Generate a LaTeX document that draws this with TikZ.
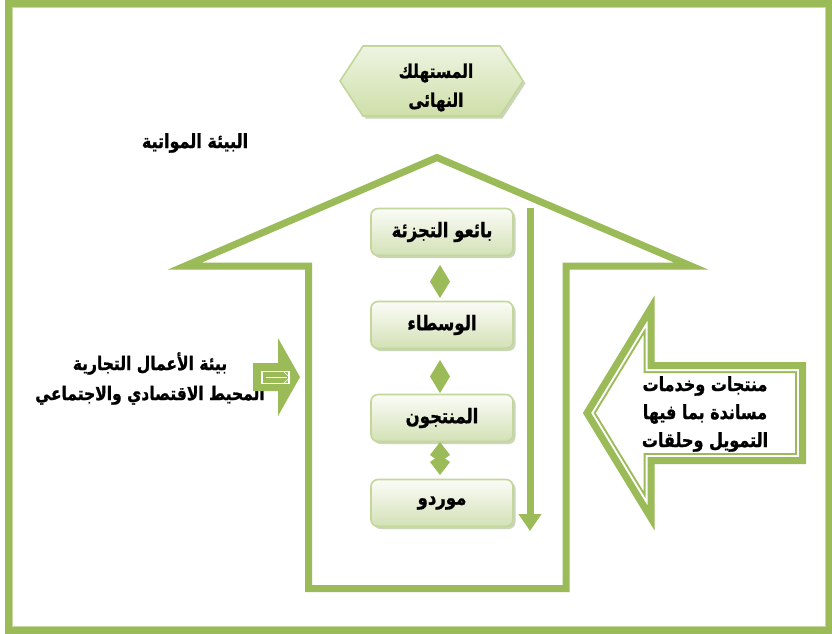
\documentclass[tikz,border=0pt]{standalone}
\usepackage{fontspec}
\newfontfamily\arfont[Script=Arabic, BoldFeatures={FakeBold=1.2}]{DejaVu Sans}
\TeXXeTstate=1
\usetikzlibrary{shadows,arrows.meta,calc}
\definecolor{olive}{HTML}{9BBB59}
\definecolor{oliveLight}{HTML}{C5D9A0}
\definecolor{boxline}{HTML}{C3D69B}
\definecolor{boxtop}{HTML}{FBFCF7}
\definecolor{boxbot}{HTML}{D3E1B6}
\definecolor{hextop}{HTML}{EEF4E2}
\definecolor{hexbot}{HTML}{CFDFA9}
\definecolor{shad}{HTML}{A9B98A}
\newcommand{\AR}[1]{{\scalebox{1}[1.22]{\beginR #1\endR}}}
\begin{document}
\begin{tikzpicture}[x=1pt,y=-1pt,
  artext/.style={font=\arfont\bfseries\fontsize{16}{20}\selectfont, align=center, inner sep=0pt},
  stagebox/.style={rounded corners=7pt, draw=boxline, line width=1.6pt,
     top color=boxtop, bottom color=boxbot, minimum width=142pt, minimum height=47pt,
     drop shadow={shadow xshift=2.5pt, shadow yshift=-2.5pt, fill=shad, opacity=0.6},
     font=\arfont\bfseries\fontsize{16.5}{20}\selectfont},
  thick green/.style={draw=olive, line width=7pt, miter limit=25},
  dblarrow/.pic={\fill[olive] (0,-#1) -- (10,0) -- (0,#1) -- (-10,0) -- cycle;},
]
\useasboundingbox (0,0) rectangle (832,634);
\fill[white] (0,0) rectangle (832,634);
% outer frame
\draw[thick green] (8.5,3.5) rectangle (829.5,630.5);
\draw[oliveLight, line width=0.8pt] (12.4,7.4) rectangle (825.6,626.6);

% big up arrow (outline)
\draw[thick green] (437,157.5) -- (691,266) -- (566,266) -- (566,588.5)
   -- (308.5,588.5) -- (308.5,266) -- (185,266) -- cycle;

% hexagon: final consumer
\draw[draw=boxline, line width=1.6pt, top color=hextop, bottom color=hexbot,
      drop shadow={shadow xshift=2.5pt, shadow yshift=-2.5pt, fill=shad, opacity=0.6}]
   (340,81) -- (363,46) -- (500,46) -- (523,81) -- (500,116) -- (363,116) -- cycle;
\node[artext, font=\arfont\bfseries\fontsize{15.5}{29}\selectfont] (cons) at (436,87.5)
   {\AR{المستهلك}\\\AR{النهائى}};

% environment label
\node[artext] (env) at (195,143) {\AR{البيئة المواتية}};

% stage boxes
\node[stagebox] (b1) at (442,232) {\AR{بائعو التجزئة}};
\node[stagebox] (b2) at (442,325) {\AR{الوسطاء}};
\node[stagebox] (b3) at (442,418) {\AR{المنتجون}};
\node[stagebox] (b4) at (442,503) {\AR{موردو}};

% double arrows between boxes
\path (440,281.5) pic {dblarrow=16.5};
\path (440,376.5) pic {dblarrow=16.5};
\fill[olive] (440,442) -- (450,455) -- (445,458.5) -- (450,462) -- (440,475)
   -- (430,462) -- (435,458.5) -- (430,455) -- cycle;

% downward flow arrow
\coordinate (dtop) at (530,208);
\coordinate (dbot) at (530,531);
\draw[draw=olive, line width=7pt, -{Triangle[width=22pt,length=17pt]}] (dtop) -- (dbot);

% left text and arrow
\node[artext, font=\arfont\bfseries\fontsize{15.5}{30}\selectfont] (left) at (150,378.5)
   {\AR{بيئة الأعمال التجارية}\\\AR{المحيط الاقتصادي والاجتماعي}};
\fill[olive] (253,363) -- (278,363) -- (278,338) -- (300,377) -- (278,416)
   -- (278,391) -- (253,391) -- cycle;
\draw[white, line width=1.3pt] (262,371.5) rectangle (289,383.5);
\draw[white, line width=0.8pt] (266,377.5) -- (287,377.5);
\draw[white, line width=0.6pt] (284,372) -- (290,377.5) -- (284,383);

% right arrow (outline with inner line)
\begin{scope}
  \clip (587,413) -- (651,308) -- (651,365.5) -- (802.5,365.5) -- (802.5,460.5)
        -- (651,460.5) -- (651,518) -- cycle;
  \begin{scope}
    \clip (600,369) rectangle (800,452);
    \node[artext, font=\arfont\bfseries\fontsize{16}{28}\selectfont] (rtext) at (705,414)
      {\AR{منتجات وخدمات}\\\AR{مساندة بما فيها}\\\AR{التمويل وحلقات}};
  \end{scope}
  \draw[draw=olive, line width=15pt, miter limit=25] (587,413) -- (651,308) -- (651,365.5)
        -- (802.5,365.5) -- (802.5,460.5) -- (651,460.5) -- (651,518) -- cycle;
  \draw[draw=white, line width=11pt, miter limit=25] (587,413) -- (651,308) -- (651,365.5)
        -- (802.5,365.5) -- (802.5,460.5) -- (651,460.5) -- (651,518) -- cycle;
\end{scope}
\draw[thick green] (587,413) -- (651,308) -- (651,365.5) -- (802.5,365.5) -- (802.5,460.5)
      -- (651,460.5) -- (651,518) -- cycle;
\end{tikzpicture}
\end{document}
